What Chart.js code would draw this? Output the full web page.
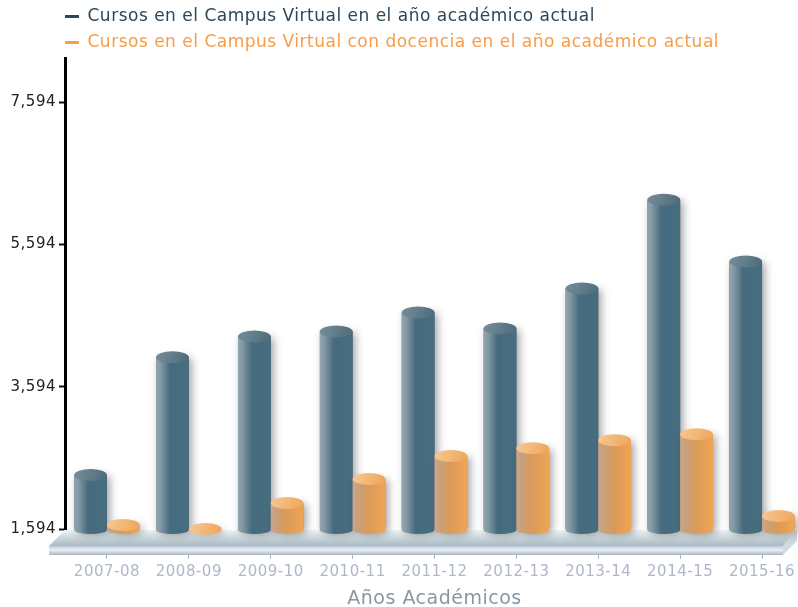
<!DOCTYPE html>
<html><head><meta charset="utf-8">
<style>html,body{margin:0;padding:0;background:#fff;overflow:hidden;width:798px;height:607px}canvas{display:block}</style>
<script src="https://cdn.jsdelivr.net/npm/chart.js@4/dist/chart.umd.min.js"></script>
</head><body>
<canvas id="c" width="804" height="610"></canvas>
<script>
const categories = ['2007-08','2008-09','2009-10','2010-11','2011-12','2012-13','2013-14','2014-15','2015-16'];
const cursosTotal = [2352,4008,4303,4373,4640,4415,4976,6225,5355];
const cursosDocencia = [1650,1594,1959,2296,2619,2731,2843,2927,1776];
const yTicks = [1594,3594,5594,7594];
const seriesNames = ['Cursos en el Campus Virtual en el año académico actual','Cursos en el Campus Virtual con docencia en el año académico actual'];
const seriesColors = ['#2b475a','#f89c46'];
const axisTitle = 'Años Académicos';
const FONT = '"DejaVu Sans"';
const cyl = [
  {stops:[[0,'#94a7b0'],[0.14,'#8298a3'],[0.42,'#466b7e'],[1,'#476d81']],cap:['#768d98','#4d6b7b']},
  {stops:[[0,'#c8a78a'],[0.15,'#c6a17e'],[0.48,'#da9a58'],[1,'#f0a556']],cap:['#f7c892','#eea55b']}
];
const RY = 6;
const floorPlugin = {
  id:'floor',
  afterLayout(chart){
    chart.legend.left = 56; chart.legend.top = -1;
    chart.scales.y.left -= 1; chart.scales.y.right -= 1;
  },
  beforeDraw(chart){ chart.ctx.letterSpacing = '0.5px'; },
  beforeDatasetsDraw(chart){
    const {ctx,chartArea:a} = chart; const b = a.bottom+1, L=a.left-1, R=797;
    ctx.save();
    let g = ctx.createLinearGradient(0,b,0,b+16);
    g.addColorStop(0,'#eef5f6'); g.addColorStop(1,'#a8b8c2');
    ctx.fillStyle=g; ctx.beginPath(); ctx.moveTo(L,b); ctx.lineTo(R,b); ctx.lineTo(R-14,b+16); ctx.lineTo(L-16,b+16); ctx.closePath(); ctx.fill();
    g = ctx.createLinearGradient(0,b+16,0,b+25);
    g.addColorStop(0,'#bccad4'); g.addColorStop(0.45,'#e9f0f4'); g.addColorStop(1,'#a6b6c8');
    ctx.fillStyle=g; ctx.fillRect(L-16,b+16,R-14-L+16,9);
    ctx.fillStyle='#cfdae1'; ctx.beginPath(); ctx.moveTo(R,b); ctx.lineTo(R,b+11); ctx.lineTo(R-14,b+25); ctx.lineTo(R-14,b+16); ctx.closePath(); ctx.fill();
    ctx.restore();
  },
  afterDatasetsDraw(chart){
    const {ctx,chartArea:a} = chart; const base = a.bottom+1;
    categories.forEach((_,idx)=>{
      [0,1].forEach(ds=>{
        const bar = chart.getDatasetMeta(ds).data[idx];
        const w = bar.width, x0 = bar.x-w/2, x1 = bar.x+w/2, top = bar.y, rx = w/2, c = cyl[ds];
        ctx.save();
        const g = ctx.createLinearGradient(x0,0,x1,0);
        c.stops.forEach(s=>g.addColorStop(s[0],s[1]));
        ctx.shadowColor='rgba(50,50,50,0.45)'; ctx.shadowBlur=8; ctx.shadowOffsetX=3; ctx.shadowOffsetY=1;
        ctx.fillStyle=g;
        ctx.beginPath(); ctx.moveTo(x0,top); ctx.lineTo(x0,base);
        ctx.ellipse(bar.x,base,rx,4,0,Math.PI,0,true);
        ctx.lineTo(x1,top); ctx.closePath(); ctx.fill();
        ctx.shadowColor='transparent';
        const h = ctx.createLinearGradient(x0,top-RY,x1,top+RY);
        h.addColorStop(0,c.cap[0]); h.addColorStop(1,c.cap[1]);
        ctx.fillStyle=h;
        ctx.beginPath(); ctx.ellipse(bar.x,top,rx,RY,0,0,Math.PI*2); ctx.fill();
        ctx.restore();
      });
    });
  }
};
new Chart(document.getElementById('c'),{
  type:'bar',
  data:{labels:categories,datasets:[
    {label:seriesNames[0],data:cursosTotal,backgroundColor:'#476d81',borderWidth:0},
    {label:seriesNames[1],data:cursosDocencia,backgroundColor:'#e39f55',borderWidth:0}
  ]},
  options:{
    responsive:false,animation:false,
    layout:{padding:{top:-4,right:1,left:0,bottom:0}},
    datasets:{bar:{categoryPercentage:0.8,barPercentage:1}},
    plugins:{
      tooltip:{enabled:false},
      legend:{position:'top',align:'start',labels:{
        boxWidth:14,boxHeight:3,padding:9,font:{family:FONT,size:17},
        generateLabels:c=>c.data.datasets.map((d,i)=>({text:d.label,fillStyle:seriesColors[i],strokeStyle:seriesColors[i],lineWidth:0,fontColor:seriesColors[i],datasetIndex:i}))
      }}
    },
    scales:{
      x:{
        grid:{offset:false,drawOnChartArea:false,tickLength:30,color:'#a9b4c2',tickWidth:1},
        border:{display:false},
        ticks:{color:'#aeb7c9',font:{family:FONT,size:15},padding:4,autoSkip:false,maxRotation:0,minRotation:0},
        title:{display:true,text:axisTitle,color:'#8797a4',font:{family:FONT,size:19},padding:{top:0,bottom:0}},
        afterFit(s){s.height=81;}
      },
      y:{
        min:1594,max:8218,
        afterBuildTicks(s){s.ticks=yTicks.map(v=>({value:v}));},
        grid:{drawOnChartArea:false,tickLength:6,color:'#111',tickWidth:2},
        border:{display:true,color:'#000',width:3},
        ticks:{color:'#222',font:{family:FONT,size:15},padding:3,callback:v=>v.toLocaleString('en-US')},
        afterFit(s){s.width=66;}
      }
    }
  },
  plugins:[floorPlugin]
});
</script>
</body></html>
